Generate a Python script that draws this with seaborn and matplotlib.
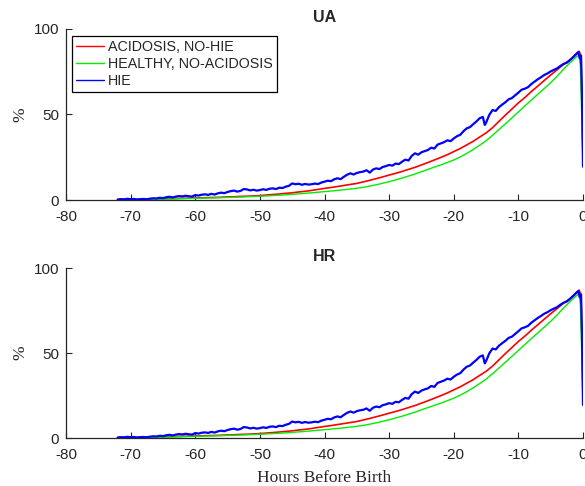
import matplotlib
matplotlib.use("Agg")
import matplotlib.pyplot as plt
import seaborn as sns
import pandas as pd

sns.set_style("ticks")
plt.rcParams['font.family'] = ['Liberation Sans', 'DejaVu Sans']

# ---------------- data ----------------
series_names = ["ACIDOSIS, NO-HIE", "HEALTHY, NO-ACIDOSIS", "HIE"]
series_colors = ["#ff0000", "#00ee00", "#0000ff"]
panel_titles = ["UA", "HR"]
x_ticks = [-80, -70, -60, -50, -40, -30, -20, -10, 0]
y_ticks = [0, 50, 100]

red_x = [-72, -71, -70, -69, -68, -67, -66, -65, -64, -63, -62, -61, -60, -59, -58,
         -57, -56, -55, -54, -53, -52, -51, -50, -49, -48, -47, -46, -45, -44, -43,
         -42, -41, -40, -39, -38, -37, -36, -35, -34, -33, -32, -31, -30, -29, -28,
         -27, -26, -25, -24, -23, -22, -21, -20, -19, -18, -17, -16, -15, -14, -13,
         -12, -11, -10, -9, -8, -7, -6, -5, -4, -3, -2, -1, -0.6, -0.3, 0]
red_y = [0.2, 0.2, 0.3, 0.3, 0.4, 0.5, 0.6, 0.7, 0.8, 0.9, 1.0, 1.1, 1.2, 1.3, 1.4,
         1.5, 1.6, 1.8, 1.9, 2.1, 2.2, 2.4, 2.6, 2.9, 3.2, 3.5, 3.9, 4.2, 4.7, 5.1,
         5.6, 6.2, 6.8, 7.3, 7.9, 8.5, 9.1, 9.7, 10.6, 11.5, 12.5, 13.5, 14.6, 15.6, 16.7,
         17.9, 19.1, 20.5, 21.9, 23.4, 24.9, 26.5, 28.3, 30.1, 32.2, 34.3, 36.8, 39.2, 42.3, 46.0,
         49.7, 53.2, 56.8, 59.9, 63.4, 66.6, 69.9, 73.1, 76.2, 79.3, 82.0, 85.8, 87.0, 84.0, 28.0]

green_x = [-72, -70, -68, -66, -64, -62, -60, -58, -56, -54, -52, -50, -48, -46, -44,
           -42, -40, -38, -36, -34, -32, -30, -28, -26, -24, -22, -20, -19, -18, -17,
           -16, -15, -14, -13, -12, -11, -10, -9, -8, -7, -6, -5, -4, -3, -2,
           -1, -0.6, -0.4, 0]
green_y = [0.1, 0.2, 0.3, 0.4, 0.6, 0.8, 1.0, 1.2, 1.4, 1.6, 1.9, 2.2, 2.6, 3.0, 3.6,
           4.2, 4.9, 5.6, 6.4, 7.4, 8.9, 10.7, 12.8, 15.2, 17.9, 20.5, 23.4, 25.2, 27.2, 29.5,
           32.0, 34.6, 37.8, 41.2, 44.6, 48.0, 51.5, 55.0, 58.4, 61.8, 65.2, 68.6, 72.4, 76.5, 80.3,
           83.8, 84.5, 78.0, 22.0]

blue_x = [-72.0, -71.5, -71.0, -70.5, -70.0, -69.5, -69.0, -68.5, -68.0, -67.5, -67.0, -66.5,
          -66.0, -65.5, -65.0, -64.5, -64.0, -63.5, -63.0, -62.5, -62.0, -61.5, -61.0, -60.5,
          -60.0, -59.5, -59.0, -58.5, -58.0, -57.5, -57.0, -56.5, -56.0, -55.5, -55.0, -54.5,
          -54.0, -53.5, -53.0, -52.5, -52.0, -51.5, -51.0, -50.5, -50.0, -49.5, -49.0, -48.5,
          -48.0, -47.5, -47.0, -46.5, -46.0, -45.5, -45.0, -44.5, -44.0, -43.5, -43.0, -42.5,
          -42.0, -41.5, -41.0, -40.5, -40.0, -39.5, -39.0, -38.5, -38.0, -37.5, -37.0, -36.5,
          -36.0, -35.5, -35.0, -34.5, -34.0, -33.5, -33.0, -32.5, -32.0, -31.5, -31.0, -30.5,
          -30.0, -29.5, -29.0, -28.5, -28.0, -27.5, -27.0, -26.5, -26.0, -25.5, -25.0, -24.5,
          -24.0, -23.5, -23.0, -22.5, -22.0, -21.5, -21.0, -20.5, -20.0, -19.5, -19.0, -18.5,
          -18.0, -17.5, -17.0, -16.5, -16.0, -15.5, -15.2, -15.0, -14.5, -14.0, -13.5, -13.0,
          -12.5, -12.0, -11.5, -11.0, -10.5, -10.0, -9.5, -9.0, -8.5, -8.0, -7.5, -7.0,
          -6.5, -6.0, -5.5, -5.0, -4.5, -4.0, -3.5, -3.0, -2.5, -2.0, -1.5, -1.0,
          -0.7, -0.5, -0.3, -0.15, 0.0]
blue_y = [0.3, 0.5, 0.4, 0.7, 0.5, 0.6, 0.3, 0.5, 0.6, 0.4, 0.8, 1.0,
          0.9, 1.3, 1.1, 1.6, 1.9, 1.5, 2.0, 2.3, 2.1, 2.5, 2.2, 2.0,
          2.9, 2.6, 3.1, 3.3, 3.0, 3.6, 3.2, 3.9, 4.3, 4.0, 4.7, 5.2,
          5.5, 4.9, 5.3, 6.4, 6.2, 5.6, 6.0, 5.5, 5.8, 6.3, 5.9, 6.6,
          6.8, 6.4, 7.2, 7.0, 7.8, 8.3, 9.7, 9.2, 9.5, 8.9, 9.4, 9.0,
          9.2, 9.6, 9.3, 10.2, 10.7, 11.3, 11.0, 12.1, 12.7, 12.2, 13.6, 14.8,
          15.6, 14.9, 15.8, 16.3, 16.6, 17.4, 16.0, 17.8, 18.5, 18.1, 19.3, 19.8,
          20.5, 20.1, 21.3, 21.0, 22.4, 23.6, 23.1, 25.8, 27.3, 26.5, 27.9, 28.6,
          29.2, 30.6, 30.1, 32.4, 33.1, 33.8, 34.9, 34.4, 36.0, 37.3, 38.1, 40.2,
          41.9, 42.6, 44.3, 45.9, 47.8, 48.6, 43.9, 45.2, 49.8, 52.6, 52.1, 54.3,
          55.8, 57.2, 58.9, 59.6, 61.2, 62.8, 64.5, 65.1, 66.0, 67.8, 69.2, 70.6,
          71.8, 73.1, 74.0, 75.2, 76.1, 77.0, 78.4, 79.6, 80.3, 81.9, 83.6, 85.4,
          86.5, 82.8, 84.5, 60.0, 19.5]

# The HR panel shows the same curves as UA
ua_series = [(red_x, red_y), (green_x, green_y), (blue_x, blue_y)]
hr_series = [(list(red_x), list(red_y)), (list(green_x), list(green_y)), (list(blue_x), list(blue_y))]
panels = [ua_series, hr_series]
line_widths = [1.2, 1.0, 1.6]

# ---------------- figure ----------------
fig = plt.figure(figsize=(5.85, 4.86), dpi=100)
ax_top = fig.add_axes([66/585, 1 - 200/486, 517/585, 171/486])
ax_bot = fig.add_axes([66/585, 1 - 438/486, 517/585, 170/486])
axes = [ax_top, ax_bot]

for ax, series, title in zip(axes, panels, panel_titles):
    for (xs, ys), name, col, lw in zip(series, series_names, series_colors, line_widths):
        df = pd.DataFrame({"x": xs, "y": ys})
        sns.lineplot(data=df, x="x", y="y", ax=ax, color=col, linewidth=lw,
                     label=name, sort=False, estimator=None, legend=False)
    ax.set_xlim(-80, 0)
    ax.set_ylim(0, 100)
    ax.set_xticks(x_ticks)
    ax.set_yticks(y_ticks)
    ax.set_xticklabels([str(t) for t in x_ticks])
    ax.set_yticklabels([str(t) for t in y_ticks])
    ax.tick_params(direction='in', length=4, width=0.8, labelsize=11,
                   colors='#262626', pad=5)
    ax.tick_params(axis='x', pad=7)
    for s in ['top', 'right']:
        ax.spines[s].set_visible(False)
    for s in ['left', 'bottom']:
        ax.spines[s].set_color('#262626')
        ax.spines[s].set_linewidth(0.9)
    ax.set_title(title, fontsize=11.5, fontweight='bold', pad=5)
    ax.set_ylabel('%', fontsize=12.5, family=['Liberation Serif', 'DejaVu Serif'],
                  labelpad=4, color='#262626')
    ax.set_xlabel('')
    ax.set_facecolor('white')

ax_bot.set_xlabel('Hours Before Birth', fontsize=12.5,
                  family=['Liberation Serif', 'DejaVu Serif'], labelpad=6, color='#262626')

leg = ax_top.legend(loc='upper left', bbox_to_anchor=(0.012, 0.96), fontsize=10.3,
                    frameon=True, fancybox=False, edgecolor='black', framealpha=1,
                    handlelength=1.9, handletextpad=0.3, borderpad=0.3,
                    labelspacing=0.2, borderaxespad=0)
leg.get_frame().set_linewidth(0.9)
for line in leg.get_lines():
    line.set_linewidth(1.0)

fig.savefig('out.png', dpi=100, facecolor='white')
